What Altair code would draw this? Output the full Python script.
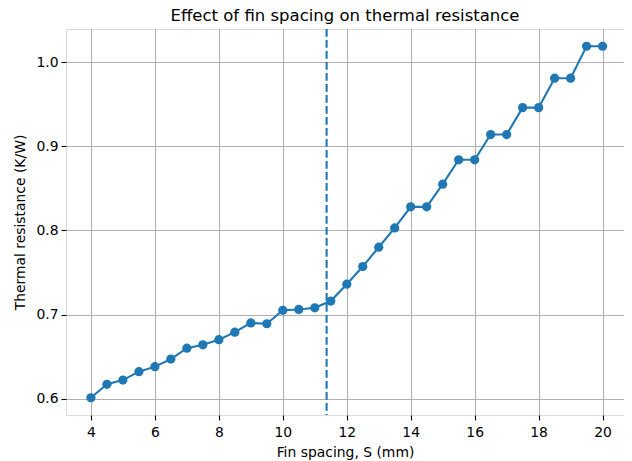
import altair as alt
import pandas as pd

spacing = [4, 4.5, 5, 5.5, 6, 6.5, 7, 7.5, 8, 8.5, 9, 9.5, 10, 10.5, 11, 11.5,
           12, 12.5, 13, 13.5, 14, 14.5, 15, 15.5, 16, 16.5, 17, 17.5, 18, 18.5,
           19, 19.5, 20]
resistance = [0.601, 0.617, 0.622, 0.632, 0.638, 0.647, 0.660, 0.664, 0.670, 0.679,
              0.690, 0.689, 0.705, 0.706, 0.708, 0.716, 0.736, 0.757, 0.780, 0.803,
              0.828, 0.828, 0.855, 0.884, 0.884, 0.914, 0.914, 0.946, 0.946, 0.981,
              0.981, 1.019, 1.019]
optimum = [11.37]
x_ticks = [4, 6, 8, 10, 12, 14, 16, 18, 20]
y_ticks = [0.6, 0.7, 0.8, 0.9, 1.0]

df = pd.DataFrame({"S": spacing, "R": resistance})
vdf = pd.DataFrame({"S": optimum})

blue = "#1f77b4"
font = "DejaVu Sans"

xscale = alt.Scale(domain=[3.22, 20.67], nice=False, zero=False)
yscale = alt.Scale(domain=[0.5805, 1.0395], nice=False, zero=False)

xaxis = alt.Axis(values=x_ticks, title="Fin spacing, S (mm)", format="d",
                 grid=True, gridColor="#b0b0b0", gridWidth=1.1,
                 tickColor="black", tickSize=5, tickWidth=1.1,
                 labelFont=font, labelFontSize=13.9, labelColor="black", labelPadding=5,
                 titleFont=font, titleFontSize=13.9, titleFontWeight="normal",
                 titleColor="black", titlePadding=7, domain=False)
yaxis = alt.Axis(values=y_ticks, title="Thermal resistance (K/W)", format=".1f",
                 grid=True, gridColor="#b0b0b0", gridWidth=1.1,
                 tickColor="black", tickSize=5, tickWidth=1.1,
                 labelFont=font, labelFontSize=13.9, labelColor="black", labelPadding=3,
                 titleFont=font, titleFontSize=13.9, titleFontWeight="normal",
                 titleColor="black", titlePadding=8, domain=False)

line = alt.Chart(df).mark_line(color=blue, strokeWidth=2.1).encode(
    x=alt.X("S:Q", scale=xscale, axis=xaxis),
    y=alt.Y("R:Q", scale=yscale, axis=yaxis),
)
pts = alt.Chart(df).mark_circle(color=blue, size=85, opacity=1).encode(
    x=alt.X("S:Q", scale=xscale),
    y=alt.Y("R:Q", scale=yscale),
)
vline = alt.Chart(vdf).mark_rule(color=blue, strokeWidth=2.1, strokeDash=[7.7, 3.3]).encode(
    x=alt.X("S:Q", scale=xscale),
)

chart = alt.layer(vline, line, pts).properties(
    width=558, height=386,
    title=alt.TitleParams("Effect of fin spacing on thermal resistance",
                          font=font, fontSize=16.5, fontWeight="normal",
                          color="black", offset=3),
    autosize=alt.AutoSizeParams(type="none"),
    padding={"left": 58, "top": 21, "right": 0, "bottom": 45},
).configure_view(stroke="#222222", strokeWidth=1.1).configure(background="white")

chart.save("out.html", embed_options={"renderer": "svg", "actions": False})
